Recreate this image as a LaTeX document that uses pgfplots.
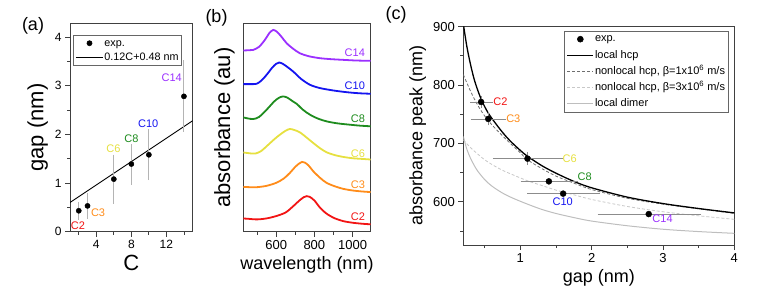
\documentclass[border=0pt]{standalone}
\usepackage{pgfplots}
\pgfplotsset{compat=1.18}
\usepackage{fontspec}
\setmainfont{Liberation Sans}
\definecolor{cRed}{HTML}{F21414}
\definecolor{cOrange}{HTML}{FF8C1A}
\definecolor{cYellow}{HTML}{E6E040}
\definecolor{cGreen}{HTML}{1E8C1E}
\definecolor{cBlue}{HTML}{1414F0}
\definecolor{cPurple}{HTML}{9B30FF}
\definecolor{axgray}{HTML}{404040}
\definecolor{errA}{HTML}{B4B4B4}
\definecolor{errC}{HTML}{8C8C8C}
\definecolor{dkdash}{HTML}{6E6E6E}
\definecolor{ltdash}{HTML}{C8C8C8}
\definecolor{dimer}{HTML}{BEBEBE}
\pgfplotstableread{
x y ep em
2 0.43 0.14 0.15
3 0.53 0.22 0.22
6 1.08 0.46 0.46
8 1.39 0.36 0.38
10 1.58 0.49 0.48
14 2.78 0.70 0.69
}\gapdata
\pgfplotstableread{
x y xp xm yp ym
0.45 771 0.14 0.13 7 7
0.55 742 0.23 0.22 8 8
1.10 674 0.47 0.46 8 8
1.40 635 0.38 0.37 0 0
1.60 614 0.49 0.48 0 0
2.80 579 0.71 0.69 0 0
}\peakdata
\begin{document}
\begin{tikzpicture}
\useasboundingbox (0pt,0pt) rectangle (761pt,306pt);
\pgfplotsset{
  every axis/.append style={
    scale only axis,
    axis line style={color=axgray, line width=0.8pt},
    tick style={color=axgray, line width=0.8pt},
    tick align=outside, tick pos=left,
    major tick length=5pt, minor tick length=3pt,
    /pgf/number format/assume math mode=true,
    /pgf/number format/set thousands separator={},
    clip mode=individual,
  },
}
% panel labels
\node[font=\fontsize{18}{20}\selectfont] at (33pt,280pt) {(a)};
\node[font=\fontsize{18}{20}\selectfont] at (216.5pt,288pt) {(b)};
\node[font=\fontsize{18}{20}\selectfont] at (396pt,291pt) {(c)};

%%%%%%%%%%%%%%%% (a)
\begin{axis}[at={(70pt,74.3pt)}, anchor=south west,
  width=122.7pt, height=208.4pt,
  xmin=1, xmax=15, ymin=0, ymax=4.28,
  xtick={4,8,12}, minor xtick={2,6,10,14},
  ytick={0,1,2,3,4}, minor ytick={0.5,1.5,2.5,3.5},
  xlabel={C}, ylabel={gap (nm)},
  label style={font=\fontsize{22}{26}\selectfont},
  ticklabel style={font=\fontsize{12}{14}\selectfont},
  legend style={at={(0,1)}, anchor=north west, xshift=3.3pt, yshift=-11.7pt,
     draw=axgray!80, line width=0.5pt, font=\fontsize{10.8}{12}\selectfont,
     row sep=2.5pt, inner sep=2pt,
     nodes={inner sep=1pt, text height=7.8pt, text depth=2.2pt}},
  legend cell align=left,
  legend image code/.code={\draw[mark repeat=2,mark phase=2,#1] plot coordinates {(0pt,0pt) (13.5pt,0pt) (27pt,0pt)};},
]
\addlegendimage{only marks, mark=*, mark size=2.6pt, black}
\addlegendentry{exp.}
\addlegendimage{black, line width=0.9pt}
\addlegendentry{0.12C+0.48 nm}
\addplot[black, line width=0.9pt, forget plot] coordinates {(1,0.60) (15,2.28)};
\addplot[errA, line width=0.9pt, only marks, mark=none, forget plot,
  error bars/.cd, y dir=both, y explicit,
  error bar style={errA, line width=0.9pt},
  error mark options={errA, line width=0.9pt, mark size=2pt}]
  table[x=x, y=y, y error plus=ep, y error minus=em] {\gapdata};
\addplot[only marks, mark=*, mark size=2.6pt, black, forget plot]
  table[x=x, y=y] {\gapdata};
\node[cRed, font=\fontsize{11}{12}\selectfont] at (axis cs:1.9,0.12) {C2};
\node[cOrange, font=\fontsize{11}{12}\selectfont] at (axis cs:4.2,0.38) {C3};
\node[cYellow, font=\fontsize{11}{12}\selectfont] at (axis cs:5.96,1.71) {C6};
\node[cGreen, font=\fontsize{11}{12}\selectfont] at (axis cs:8.0,1.90) {C8};
\node[cBlue, font=\fontsize{11}{12}\selectfont] at (axis cs:9.93,2.21) {C10};
\node[cPurple, font=\fontsize{11}{12}\selectfont] at (axis cs:12.6,3.16) {C14};
\end{axis}

%%%%%%%%%%%%%%%% (b)
\begin{axis}[at={(243.3pt,74.3pt)}, anchor=south west,
  width=127.4pt, height=208.4pt,
  xmin=428, xmax=1095, ymin=0, ymax=627,
  xtick={600,800,1000}, minor xtick={500,700,900},
  ytick=\empty,
  xlabel={wavelength (nm)}, ylabel={absorbance (au)},
  xlabel style={font=\fontsize{18}{22}\selectfont},
  ylabel style={font=\fontsize{22}{26}\selectfont},
  ticklabel style={font=\fontsize{13}{15}\selectfont},
  every axis plot/.append style={line width=1.8pt, smooth},
]
\addplot[cRed] coordinates {(420,40)(450,39)(500,37)(550,40)(600,47)(650,58)(690,77)(720,93)(745,104)(760,107)(775,105)(800,94)(830,72)(860,56)(900,42)(950,32)(1000,27)(1050,24)(1100,22)};
\addplot[cOrange] coordinates {(420,135)(460,134)(500,134)(550,138)(600,147)(640,160)(672,177)(700,195)(720,205)(735,210)(750,208)(770,199)(794,182)(830,162)(864,147)(910,136)(951,129)(1000,124)(1050,121)(1100,119)};
\addplot[cYellow] coordinates {(420,239)(460,236)(490,235)(520,242)(550,257)(590,278)(620,292)(650,304)(672,309)(695,306)(724,299)(760,283)(794,267)(830,251)(864,239)(910,230)(951,225)(1000,221)(1050,219)(1100,217)};
\addplot[cGreen] coordinates {(420,345)(450,341)(480,339)(510,345)(550,367)(590,392)(615,403)(637,407)(660,403)(685,393)(707,385)(740,367)(777,352)(820,340)(864,332)(920,326)(985,322)(1040,319)(1100,317)};
\addplot[cBlue] coordinates {(420,444)(460,444)(498,445)(525,456)(550,472)(580,494)(600,505)(616,509)(635,505)(660,495)(689,482)(730,460)(777,442)(830,432)(898,425)(950,421)(1000,418)(1050,416)(1100,415)};
\addplot[cPurple] coordinates {(420,545)(460,546)(480,547)(510,556)(541,577)(565,598)(585,607)(605,601)(630,585)(655,567)(690,550)(724,537)(770,528)(829,522)(890,519)(951,517)(1020,515)(1100,514)};
\node[cPurple, anchor=east, font=\fontsize{11}{12}\selectfont] at (axis cs:1083,537) {C14};
\node[cBlue, anchor=east, font=\fontsize{11}{12}\selectfont] at (axis cs:1083,439) {C10};
\node[cGreen, anchor=east, font=\fontsize{11}{12}\selectfont] at (axis cs:1083,340) {C8};
\node[cYellow, anchor=east, font=\fontsize{11}{12}\selectfont] at (axis cs:1083,235) {C6};
\node[cOrange, anchor=east, font=\fontsize{11}{12}\selectfont] at (axis cs:1083,142) {C3};
\node[cRed, anchor=east, font=\fontsize{11}{12}\selectfont] at (axis cs:1083,45) {C2};
\end{axis}

%%%%%%%%%%%%%%%% (c)
\begin{axis}[at={(463.3pt,61pt)}, anchor=south west,
  width=271pt, height=218.3pt,
  xmin=0.2, xmax=4, ymin=526, ymax=900,
  xtick={1,2,3,4}, minor xtick={0.5,1.5,2.5,3.5},
  ytick={600,700,800,900}, minor ytick={550,650,750,850},
  xlabel={gap (nm)}, ylabel={absorbance peak (nm)},
  label style={font=\fontsize{18}{22}\selectfont},
  ticklabel style={font=\fontsize{13}{15}\selectfont},
  legend style={at={(1,1)}, anchor=north east, xshift=-6pt, yshift=-4pt,
     draw=axgray!80, line width=0.5pt, font=\fontsize{11}{12}\selectfont,
     row sep=3.6pt, inner sep=2pt,
     nodes={inner sep=1pt, text height=8pt, text depth=2.5pt}},
  legend cell align=left,
  legend image code/.code={\draw[mark repeat=2,mark phase=2,#1] plot coordinates {(0pt,0pt) (13pt,0pt) (26pt,0pt)};},
]
\addlegendimage{only marks, mark=*, mark size=3pt, black}
\addlegendentry{exp.}
\addlegendimage{black, line width=1.3pt}
\addlegendentry{local hcp}
\addlegendimage{dkdash, line width=0.8pt, dash pattern=on 3pt off 2pt}
\addlegendentry{nonlocal hcp, β=1x10\textsuperscript{6} m/s}
\addlegendimage{ltdash, line width=0.8pt, dash pattern=on 3pt off 2pt}
\addlegendentry{nonlocal hcp, β=3x10\textsuperscript{6} m/s}
\addlegendimage{dimer, line width=1pt}
\addlegendentry{local dimer}
% local dimer
\addplot[dimer, line width=1pt, smooth, forget plot] coordinates {(0.2,712)(0.25,690)(0.3,675)(0.35,663)(0.4,653)(0.5,638)(0.6,627)(0.75,615)(0.9,606)(1.1,596)(1.3,587)(1.5,580)(1.75,573)(2.0,567)(2.5,559)(3.0,553)(3.5,549)(4.0,546)};
% nonlocal beta=3e6
\addplot[ltdash, line width=0.8pt, dash pattern=on 3pt off 2pt, smooth, forget plot] coordinates {(0.2,706)(0.3,693)(0.4,682)(0.5,672)(0.6,664)(0.75,654)(0.9,646)(1.1,636)(1.3,628)(1.5,620)(1.75,612)(2.0,604)(2.5,592)(3.0,583)(3.5,576)(4.0,570)};
% nonlocal beta=1e6
\addplot[dkdash, line width=0.8pt, dash pattern=on 3pt off 2pt, smooth, forget plot] coordinates {(0.2,818)(0.3,790)(0.4,766)(0.5,747)(0.6,732)(0.75,713)(0.86,700)(1.0,684)(1.1,672)(1.3,657)(1.5,644)(1.75,632)(2.0,621)(2.5,606)(3.0,596)(3.5,588)(4.0,580)};
% local hcp
\addplot[black, line width=1.3pt, smooth, forget plot] coordinates {(0.2,905)(0.25,866)(0.3,836)(0.35,811)(0.4,792)(0.45,776)(0.5,763)(0.55,752)(0.63,738)(0.75,719)(0.86,704)(1.0,688)(1.1,678)(1.3,662)(1.5,649)(1.75,635)(2.0,624)(2.5,608)(3.0,597)(3.5,588.5)(4.0,581)};
% data: error bars then markers
\addplot[errC, line width=0.8pt, only marks, mark=none, forget plot,
  error bars/.cd, x dir=both, x explicit, y dir=both, y explicit,
  error bar style={errC, line width=0.8pt},
  error mark options={errC, line width=0.8pt, mark size=1.8pt}]
  table[x=x, y=y, x error plus=xp, x error minus=xm, y error plus=yp, y error minus=ym] {\peakdata};
\addplot[only marks, mark=*, mark size=3pt, black, forget plot]
  table[x=x, y=y] {\peakdata};
\node[cRed, anchor=west, inner sep=0pt, font=\fontsize{11}{12}\selectfont] at (axis cs:0.62,771) {C2};
\node[cOrange, anchor=west, inner sep=0pt, font=\fontsize{11}{12}\selectfont] at (axis cs:0.80,742) {C3};
\node[cYellow, anchor=west, inner sep=0pt, font=\fontsize{11}{12}\selectfont] at (axis cs:1.59,673) {C6};
\node[cGreen, anchor=west, inner sep=0pt, font=\fontsize{11}{12}\selectfont] at (axis cs:1.80,643) {C8};
\node[cBlue, anchor=west, inner sep=0pt, font=\fontsize{11}{12}\selectfont] at (axis cs:1.45,600) {C10};
\node[cPurple, anchor=west, inner sep=0pt, font=\fontsize{11}{12}\selectfont] at (axis cs:2.85,571) {C14};
\end{axis}
\end{tikzpicture}
\end{document}
